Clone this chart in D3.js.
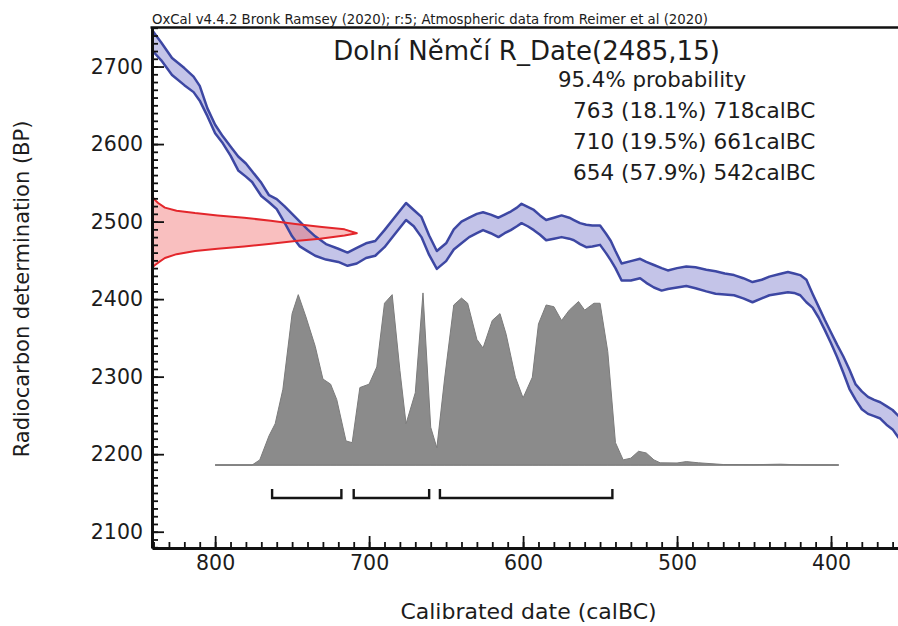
<!DOCTYPE html>
<html><head><meta charset="utf-8">
<script src="https://cdn.jsdelivr.net/npm/d3@7"></script>
<style>
body{margin:0;background:#fff}
svg text{font-family:"DejaVu Sans",sans-serif;fill:#1c1c1c}
</style>
</head><body>
<svg id="chart" width="898" height="626"></svg>
<script>
// ---------- data ----------
const calYears = [841,835,828,820,814,810,805,800,795,790,785,780,776,770,765,760,755,750,745,740,735,728,720,714,708,702,696,690,684,676,671,666,661,656,650,645,640,635,630,626,621,616,612,608,604,601,597,593,589,585,580,575,570,567,563,559,555,550,546,543,540,536,530,524,520,515,510,506,500,494,488,481,475,469,463,457,451,445,440,434,428,424,420,416,412,408,404,400,396,392,388,384,380,376,372,368,364,360,356];
const calUpper = [2747,2731,2711,2698,2687,2675,2646,2625,2610,2597,2584,2575,2565,2550,2534,2529,2520,2510,2500,2490,2481,2471,2465,2460,2466,2472,2475,2489,2504,2524,2515,2506,2482,2462,2472,2490,2500,2505,2510,2512,2509,2505,2509,2513,2518,2523,2519,2515,2508,2502,2505,2508,2505,2502,2498,2496,2495,2495,2484,2475,2462,2446,2449,2452,2448,2444,2440,2437,2440,2442,2441,2438,2436,2433,2431,2427,2422,2425,2429,2432,2435,2433,2431,2425,2407,2390,2373,2357,2341,2326,2309,2290,2281,2274,2270,2267,2262,2257,2249];
const calLower = [2721,2708,2689,2676,2667,2656,2636,2614,2601,2585,2566,2558,2551,2533,2525,2516,2499,2481,2468,2462,2456,2451,2448,2443,2446,2453,2456,2467,2482,2502,2494,2480,2457,2439,2449,2464,2472,2480,2485,2489,2485,2480,2485,2489,2494,2498,2494,2489,2483,2476,2478,2480,2478,2476,2471,2467,2468,2470,2459,2450,2440,2424,2424,2427,2421,2415,2411,2413,2415,2417,2414,2410,2407,2406,2405,2401,2396,2401,2405,2407,2409,2408,2405,2396,2389,2376,2360,2343,2325,2305,2284,2270,2258,2252,2249,2246,2238,2232,2221];

const histYears   = [800,776,771,765,761,756,750,746,741,735,730,725,721,715,711,706,700,695,690,685,680,676,670,665,660,656,651,645,640,636,630,626,620,615,611,605,600,594,590,585,580,575,570,564,560,554,550,545,540,535,530,525,520,515,511,500,494,486,470,450,433,420,395];
const histDensity = [0,0,0.03,0.17,0.24,0.44,0.88,0.99,0.86,0.69,0.50,0.47,0.38,0.14,0.13,0.45,0.47,0.57,0.94,0.99,0.55,0.24,0.42,1.0,0.22,0.10,0.50,0.93,0.97,0.94,0.73,0.68,0.84,0.88,0.76,0.51,0.39,0.51,0.82,0.93,0.92,0.84,0.90,0.95,0.90,0.94,0.94,0.66,0.13,0.03,0.04,0.08,0.07,0.03,0.013,0.012,0.02,0.013,0.003,0.002,0.005,0.001,0];

const measBP      = [2533,2529,2524,2518,2514,2511,2508,2505,2501,2497,2493,2490,2485,2482,2478,2475,2471,2468,2465,2462,2458,2453,2447,2443,2440];
const measDensity = [0,0.01,0.03,0.063,0.12,0.21,0.32,0.45,0.58,0.70,0.83,0.94,1.0,0.94,0.82,0.70,0.57,0.45,0.32,0.21,0.12,0.063,0.03,0.01,0];

const rangeFrom = [763,710,654];
const rangeTo   = [718,661,542];
const rangePct  = ["18.1","19.5","57.9"];

const xTickValues = [800,700,600,500,400];
const yTickValues = [2100,2200,2300,2400,2500,2600,2700];

const headerText = "OxCal v4.4.2 Bronk Ramsey (2020); r:5; Atmospheric data from Reimer et al (2020)";
const titleText  = "Dolní Němčí R_Date(2485,15)";
const probText   = "95.4% probability";
const xTitle     = "Calibrated date (calBC)";
const yTitle     = "Radiocarbon determination (BP)";

// ---------- layout ----------
const L = 152, R = 898, T = 27, B = 548;
const svg = d3.select("#chart");
const x = d3.scaleLinear().domain([841, 356.5]).range([L, R]);
const y = d3.scaleLinear().domain([2079, 2751]).range([B, T]);
const hy = d3.scaleLinear().domain([0, 1]).range([y(2186), y(2408)]);
const mx = d3.scaleLinear().domain([0, 1]).range([x(841), x(708)]);

svg.append("defs").append("clipPath").attr("id","clip")
  .append("rect").attr("x",L).attr("y",T).attr("width",R-L).attr("height",B-T);
const plot = svg.append("g").attr("clip-path","url(#clip)");

// calibration curve band
const calData = calYears.map((yr,i)=>({yr, hi:calUpper[i], lo:calLower[i]}));
plot.append("path").datum(calData)
  .attr("d", d3.area().x(d=>x(d.yr)).y0(d=>y(d.lo)).y1(d=>y(d.hi)))
  .attr("fill","#c4c4e8");

// measurement distribution (red)
const measData = measBP.map((bp,i)=>({bp, p:measDensity[i]}));
plot.append("path").datum(measData)
  .attr("d", d3.area().y(d=>y(d.bp)).x0(mx(0)).x1(d=>mx(d.p)))
  .attr("fill","rgba(240,95,95,0.4)");

// calibration curve lines
["hi","lo"].forEach(k=>{
  plot.append("path").datum(calData)
    .attr("d", d3.line().x(d=>x(d.yr)).y(d=>y(d[k])))
    .attr("fill","none").attr("stroke","#3d47a3").attr("stroke-width",2.5).attr("stroke-linejoin","round");
});
plot.append("path").datum(measData)
  .attr("d", d3.line().y(d=>y(d.bp)).x(d=>mx(d.p)))
  .attr("fill","none").attr("stroke","#e3262b").attr("stroke-width",2).attr("stroke-linejoin","round");

// posterior histogram
const histData = histYears.map((yr,i)=>({yr, p:histDensity[i]}));
plot.append("line").attr("x1",x(800)).attr("x2",x(395)).attr("y1",hy(0)).attr("y2",hy(0))
  .attr("stroke","#a3a3a3").attr("stroke-width",2);
plot.append("path").datum(histData)
  .attr("d", d3.area().x(d=>x(d.yr)).y0(hy(0)).y1(d=>hy(d.p)))
  .attr("fill","#8b8b8b").attr("stroke","#7b7b7b").attr("stroke-width",1);

// range brackets
const by = y(2143.5), bt = y(2155);
rangeFrom.forEach((f,i)=>{
  const t = rangeTo[i];
  svg.append("path")
    .attr("d", `M${x(f)},${bt}V${by}H${x(t)}V${bt}`)
    .attr("fill","none").attr("stroke","#151515").attr("stroke-width",2.4);
});

// axes
const gx = svg.append("g").attr("transform",`translate(0,${B})`);
gx.append("g").call(d3.axisBottom(x).tickValues(d3.range(360,841,10)).tickSizeInner(-6).tickSizeOuter(0).tickFormat(""))
  .call(g=>g.select(".domain").remove());
gx.append("g").call(d3.axisBottom(x).tickValues(xTickValues).tickSizeInner(-12).tickSizeOuter(0).tickPadding(7).tickFormat(d3.format("d")));
gx.selectAll("line").attr("stroke","#111").attr("stroke-width",1.8);
gx.selectAll(".domain").attr("stroke","#111").attr("stroke-width",3);
gx.selectAll("text").attr("font-size",20.5).attr("font-family","DejaVu Sans").attr("fill","#1c1c1c");

const gy = svg.append("g").attr("transform",`translate(${L},0)`);
gy.append("g").call(d3.axisLeft(y).tickValues(d3.range(2080,2751,10)).tickSizeInner(-6).tickSizeOuter(0).tickFormat(""))
  .call(g=>g.select(".domain").remove());
gy.append("g").call(d3.axisLeft(y).tickValues(yTickValues).tickSizeInner(-12).tickSizeOuter(0).tickPadding(9).tickFormat(d3.format("d")));
gy.selectAll("line").attr("stroke","#111").attr("stroke-width",1.8);
gy.selectAll(".domain").attr("stroke","#111").attr("stroke-width",3);
gy.selectAll("text").attr("font-size",20.5).attr("font-family","DejaVu Sans").attr("fill","#1c1c1c");

// top frame
svg.append("line").attr("x1",L-1.5).attr("x2",R).attr("y1",T+0.5).attr("y2",T+0.5)
  .attr("stroke","#111").attr("stroke-width",2.6);

// texts
svg.append("text").attr("x",L).attr("y",24).attr("font-size",13.3).text(headerText);
svg.append("text").attr("x",526.5).attr("y",60).attr("text-anchor","middle").attr("font-size",26).text(titleText);
svg.append("text").attr("x",558).attr("y",87).attr("font-size",21.3).text(probText);
rangeFrom.forEach((f,i)=>{
  svg.append("text").attr("x",573).attr("y",118 + i*31).attr("font-size",21.6)
    .text(`${f} (${rangePct[i]}%) ${rangeTo[i]}calBC`);
});
svg.append("text").attr("x",528.5).attr("y",619).attr("text-anchor","middle").attr("font-size",22).text(xTitle);
svg.append("text").attr("transform","translate(28.5,289) rotate(-90)").attr("text-anchor","middle").attr("font-size",21).text(yTitle);
</script>
</body></html>
